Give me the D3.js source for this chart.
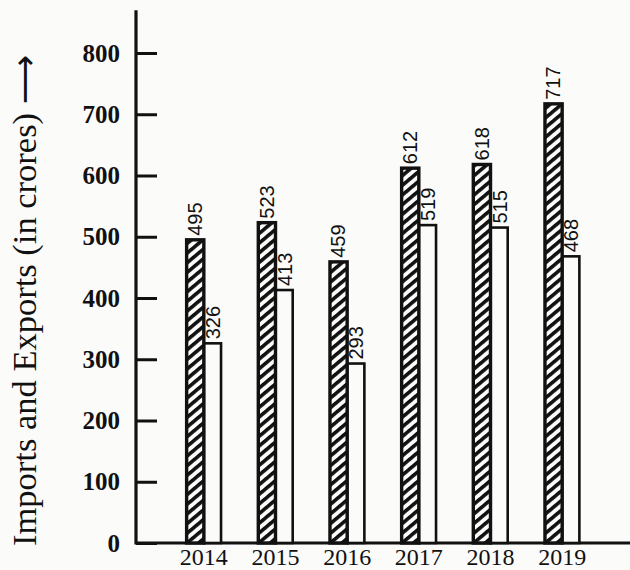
<!DOCTYPE html>
<html>
<head>
<meta charset="utf-8">
<script src="https://cdn.jsdelivr.net/npm/d3@7"></script>
<style>
    body { margin: 0; background: #fbfbfa; }
    svg { display: block; }
</style>
</head>
<body>
<div id="visHolder"></div>
<script>
const years = ["2014", "2015", "2016", "2017", "2018", "2019"];
const imports = [495, 523, 459, 612, 618, 717];
const exports = [326, 413, 293, 519, 515, 468];
const yTicks = [0, 100, 200, 300, 400, 500, 600, 700, 800];

let width = 630,
    height = 570,
    axisX = 136;

let svgContainer = d3
    .select("#visHolder")
    .append("svg")
    .attr("width", width)
    .attr("height", height);

// diagonal hatch for the first bar of each pair
let pattern = svgContainer.append("defs")
    .append("pattern")
    .attr("id", "hatch")
    .attr("patternUnits", "userSpaceOnUse")
    .attr("width", 7.4)
    .attr("height", 7.4)
    .attr("patternTransform", "rotate(-40)");
pattern.append("rect")
    .attr("width", 7.4).attr("height", 7.4).attr("fill", "#fbfbfa");
pattern.append("rect")
    .attr("width", 7.4).attr("height", 3.6).attr("fill", "#111");

let yScale = d3.scaleLinear()
    .domain([0, 800])
    .range([543, 53]);

let xScale = d3.scaleBand()
    .domain(years)
    .range([168, 598])
    .paddingInner(0.52)
    .paddingOuter(0.26);

let x1 = d3.scaleBand()
    .domain(["imports", "exports"])
    .range([0, xScale.bandwidth()]);

// y axis
let yAxis = d3.axisLeft(yScale)
    .tickValues(yTicks)
    .tickSize(-21)
    .tickPadding(16)
    .tickFormat(d3.format("d"));
let yG = svgContainer.append("g")
    .attr("transform", `translate(${axisX}, 0)`)
    .call(yAxis);
yG.select(".domain").remove();
yG.selectAll(".tick line").attr("stroke", "#111").attr("stroke-width", 3);
yG.selectAll(".tick text")
    .attr("fill", "#111")
    .style("font-family", "'Liberation Serif', serif")
    .style("font-weight", "bold")
    .style("font-size", "25px");

svgContainer.append("line")
    .attr("x1", axisX).attr("x2", axisX)
    .attr("y1", yScale(0) + 1.5).attr("y2", yScale(870))
    .attr("stroke", "#111").attr("stroke-width", 3.2);

svgContainer.append("line")
    .attr("x1", axisX).attr("x2", width)
    .attr("y1", yScale(0)).attr("y2", yScale(0))
    .attr("stroke", "#111").attr("stroke-width", 3);

// year labels
svgContainer.append("g")
    .selectAll("text")
    .data(years)
    .enter()
    .append("text")
    .attr("x", d => xScale(d) + xScale.bandwidth() / 2)
    .attr("y", 565)
    .attr("text-anchor", "middle")
    .attr("fill", "#111")
    .style("font-family", "'Liberation Serif', serif")
    .style("font-size", "24px")
    .text(d => d);

// bars
let groups = svgContainer.append("g")
    .selectAll("g")
    .data(years)
    .enter()
    .append("g")
    .attr("transform", d => `translate(${xScale(d)}, 0)`);

groups.append("rect")
    .attr("x", x1("exports"))
    .attr("y", (d, i) => yScale(exports[i]))
    .attr("width", x1.bandwidth())
    .attr("height", (d, i) => yScale(0) - yScale(exports[i]))
    .attr("fill", "#fbfbfa")
    .attr("stroke", "#111")
    .attr("stroke-width", 2.6);

groups.append("rect")
    .attr("x", x1("imports"))
    .attr("y", (d, i) => yScale(imports[i]))
    .attr("width", x1.bandwidth())
    .attr("height", (d, i) => yScale(0) - yScale(imports[i]))
    .attr("fill", "url(#hatch)")
    .attr("stroke", "#111")
    .attr("stroke-width", 3.4);

// value labels, rotated
let labelStyle = sel => sel
    .attr("text-anchor", "start")
    .attr("fill", "#111")
    .style("font-family", "'Liberation Sans', Arial, sans-serif")
    .style("font-size", "20px");

groups.append("text")
    .attr("transform", (d, i) =>
        `translate(${x1("imports") + x1.bandwidth() - 2}, ${yScale(imports[i]) - 4}) rotate(-90)`)
    .call(labelStyle)
    .text((d, i) => imports[i]);

groups.append("text")
    .attr("transform", (d, i) =>
        `translate(${x1("exports") + x1.bandwidth() - 1}, ${yScale(exports[i]) - 4}) rotate(-90)`)
    .call(labelStyle)
    .text((d, i) => exports[i]);

// y axis title
svgContainer.append("text")
    .attr("transform", "translate(36, 546) rotate(-90)")
    .attr("text-anchor", "start")
    .attr("fill", "#111")
    .style("font-family", "'Liberation Serif', serif")
    .style("font-size", "34.5px")
    .text("Imports and Exports (in crores) ")
    .append("tspan")
    .style("font-family", "'DejaVu Sans', sans-serif")
    .text("⟶");
</script>
</body>
</html>
